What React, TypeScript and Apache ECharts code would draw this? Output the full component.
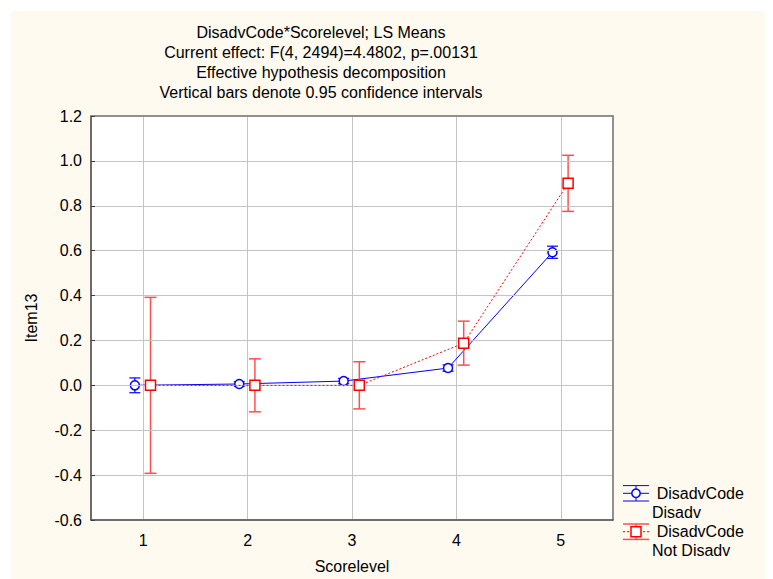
import React, { useEffect, useRef } from "react";
import * as echarts from "echarts";

const categories = ["1", "2", "3", "4", "5"];
const disadvMeans = [0.0, 0.006, 0.019, 0.077, 0.593];
const disadvCI = [0.033, 0.01, 0.012, 0.014, 0.027];
const notDisadvMeans = [0.0, 0.0, 0.0, 0.188, 0.9];
const notDisadvCI = [0.392, 0.118, 0.105, 0.098, 0.125];
const yTicks = [-0.6, -0.4, -0.2, 0.0, 0.2, 0.4, 0.6, 0.8, 1.0, 1.2];
const titleLines = [
  "DisadvCode*Scorelevel; LS Means",
  "Current effect: F(4, 2494)=4.4802, p=.00131",
  "Effective hypothesis decomposition",
  "Vertical bars denote 0.95 confidence intervals",
];
const legendA = ["DisadvCode", "Disadv"];
const legendB = ["DisadvCode", "Not Disadv"];

const FONT = "Liberation Sans, Arial, Helvetica, sans-serif";
const BLUE = "#0000FF";
const RED = "#FF0000";
const RED_BAR = "#FF5050";
const OFF_A = -0.08;
const OFF_B = 0.07;

function errorRender(color: string, capHalf: number, width: number) {
  return (params: any, api: any) => {
    const x = api.value(0);
    const lo = api.coord([x, api.value(1)]);
    const hi = api.coord([x, api.value(2)]);
    const st = { stroke: color, lineWidth: width };
    return {
      type: "group",
      children: [
        { type: "line", shape: { x1: hi[0], y1: hi[1], x2: lo[0], y2: lo[1] }, style: st },
        { type: "line", shape: { x1: hi[0] - capHalf, y1: hi[1], x2: hi[0] + capHalf, y2: hi[1] }, style: st },
        { type: "line", shape: { x1: lo[0] - capHalf, y1: lo[1], x2: lo[0] + capHalf, y2: lo[1] }, style: st },
      ],
    };
  };
}

export default function App() {
  const ref = useRef<HTMLDivElement>(null);
  useEffect(() => {
    if (!ref.current) return;
    const chart = echarts.init(ref.current, undefined, { renderer: "svg" });

    const ptsA = disadvMeans.map((v, i) => [i + 1 + OFF_A, v]);
    const ptsB = notDisadvMeans.map((v, i) => [i + 1 + OFF_B, v]);
    const errA = disadvMeans.map((v, i) => [i + 1 + OFF_A, v - disadvCI[i], v + disadvCI[i]]);
    const errB = notDisadvMeans.map((v, i) => [i + 1 + OFF_B, v - notDisadvCI[i], v + notDisadvCI[i]]);

    const txt = (text: string, x: number, y: number, align = "left") => ({
      type: "text",
      x,
      y,
      style: { text, fill: "#000", font: `16px ${FONT}`, align, verticalAlign: "middle" },
    });
    const ln = (x1: number, y1: number, x2: number, y2: number, stroke: string, extra: any = {}) => ({
      type: "line",
      shape: { x1, y1, x2, y2 },
      style: { stroke, lineWidth: 1, ...extra },
    });

    const lx1 = 612, lx2 = 638, lcx = 625;
    const ay = 482.3, by = 520.7;

    chart.setOption({
      animation: false,
      backgroundColor: "transparent",
      textStyle: { fontFamily: FONT },
      grid: {
        left: 80,
        top: 105,
        width: 522,
        height: 407,
        show: true,
        backgroundColor: "#FFFFFF",
        borderColor: "#808080",
        borderWidth: 1,
      },
      xAxis: [
        {
          type: "category",
          data: categories,
          boundaryGap: true,
          name: "Scorelevel",
          nameLocation: "middle",
          nameGap: 38,
          nameTextStyle: { fontSize: 16, color: "#000", fontFamily: FONT },
          axisLine: { onZero: false, lineStyle: { color: "#505050", width: 1.5 } },
          axisTick: { inside: true, length: 4, alignWithLabel: true, lineStyle: { color: "#404040" } },
          axisLabel: { fontSize: 16, color: "#000", margin: 12, fontFamily: FONT },
          splitLine: { show: false },
          z: 5,
        },
        {
          type: "value",
          min: 0.5,
          max: 5.5,
          axisLine: { show: false },
          axisTick: { show: false },
          axisLabel: { show: false },
          splitLine: { show: true, lineStyle: { color: "#C4C4C4", width: 1 } },
        },
        {
          type: "category",
          data: categories,
          position: "top",
          boundaryGap: true,
          axisLine: { onZero: false, lineStyle: { color: "#808080", width: 1.5 } },
          axisTick: { inside: true, length: 4, alignWithLabel: true, lineStyle: { color: "#404040" } },
          axisLabel: { show: false },
          splitLine: { show: false },
          z: 5,
        },
      ],
      yAxis: [
        {
          type: "value",
          min: yTicks[0],
          max: yTicks[yTicks.length - 1],
          interval: 0.2,
          name: "Item13",
          nameLocation: "middle",
          nameRotate: 90,
          nameGap: 52,
          nameTextStyle: { fontSize: 16, color: "#000", fontFamily: FONT },
          axisLine: { show: true, onZero: false, lineStyle: { color: "#505050", width: 1.5 } },
          axisTick: { show: true, inside: true, length: 4, lineStyle: { color: "#404040" } },
          axisLabel: {
            fontSize: 16,
            color: "#000",
            margin: 9,
            fontFamily: FONT,
            formatter: (v: number) => (Math.abs(v) < 1e-9 ? 0 : v).toFixed(1),
          },
          splitLine: { show: true, lineStyle: { color: "#C4C4C4", width: 1 } },
          z: 5,
        },
        {
          type: "value",
          min: yTicks[0],
          max: yTicks[yTicks.length - 1],
          interval: 0.2,
          position: "right",
          axisLine: { show: true, onZero: false, lineStyle: { color: "#808080", width: 1.5 } },
          axisTick: { show: false },
          axisLabel: { show: false },
          splitLine: { show: false },
          z: 5,
        },
      ],
      title: {
        text: titleLines.join("\n"),
        left: 305,
        top: 6,
        textAlign: "center",
        textStyle: { fontSize: 16, fontWeight: "normal", color: "#000", lineHeight: 20, fontFamily: FONT },
      },
      series: [
        {
          type: "line",
          xAxisIndex: 1,
          data: ptsA,
          symbol: "circle",
          symbolSize: 9,
          lineStyle: { color: BLUE, width: 1 },
          itemStyle: { color: "#FFFFFF", borderColor: BLUE, borderWidth: 1.5 },
          z: 3,
        },
        {
          type: "custom",
          xAxisIndex: 1,
          data: errA,
          renderItem: errorRender(BLUE, 5.5, 1.2),
          z: 2,
        },
        {
          type: "line",
          xAxisIndex: 1,
          data: ptsB,
          symbol: "rect",
          symbolSize: 10,
          lineStyle: { color: RED, width: 1, type: [2, 2] },
          itemStyle: { color: "#FFFFFF", borderColor: RED, borderWidth: 1.5 },
          z: 5,
        },
        {
          type: "custom",
          xAxisIndex: 1,
          data: errB,
          renderItem: errorRender(RED_BAR, 6, 1.5),
          z: 4,
        },
      ],
      graphic: [
        ln(lx1, ay - 7.7, lx2, ay - 7.7, BLUE),
        ln(lx1, ay + 7.7, lx2, ay + 7.7, BLUE),
        ln(lx1, ay, lx2, ay, BLUE),
        ln(lcx, ay - 7.7, lcx, ay + 7.7, BLUE),
        { type: "circle", shape: { cx: lcx, cy: ay, r: 4.2 }, style: { fill: "#FFFFFF", stroke: BLUE, lineWidth: 1.5 } },
        txt(legendA[0], 645.7, ay),
        txt(legendA[1], 641, ay + 19.5),
        ln(lx1, by - 7.7, lx2, by - 7.7, RED_BAR, { lineWidth: 1.5 }),
        ln(lx1, by + 7.7, lx2, by + 7.7, RED_BAR, { lineWidth: 1.5 }),
        ln(lx1, by, lx2, by, RED, { lineDash: [2, 2] }),
        ln(lcx, by - 7.7, lcx, by + 7.7, RED_BAR, { lineWidth: 1.5 }),
        { type: "rect", shape: { x: lcx - 5, y: by - 5, width: 10, height: 10 }, style: { fill: "#FFFFFF", stroke: RED, lineWidth: 1.5 } },
        txt(legendB[0], 645.7, by),
        txt(legendB[1], 641, by + 19),
      ],
    });
    return () => chart.dispose();
  }, []);

  return (
    <div style={{ width: 765, height: 571, background: "#FFFFFF" }}>
      <div style={{ marginLeft: 3, position: "relative", top: 3, width: 762, height: 568, background: "#FFFAF0" }}>
        <div ref={ref} style={{ width: 762, height: 568 }} />
      </div>
    </div>
  );
}
